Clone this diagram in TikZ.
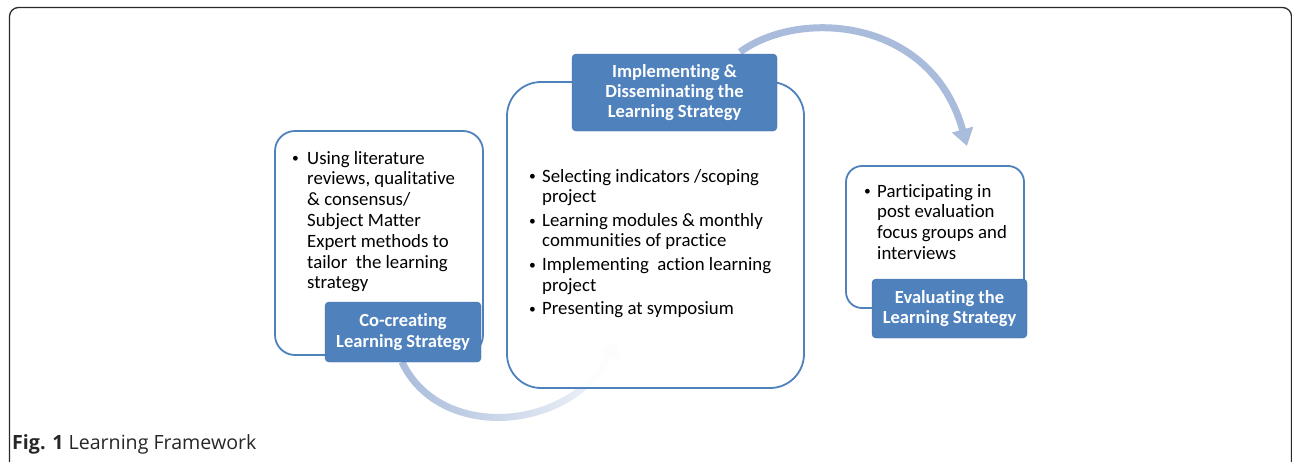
\documentclass[tikz,border=0pt]{standalone}
\usepackage{fontspec}
\setmainfont{Carlito}[Ligatures={NoCommon}]
\newfontfamily\capfont{Open Sans}
\usetikzlibrary{arrows.meta,fadings}
\definecolor{boxblue}{HTML}{4F81BD}
\definecolor{arcblue}{HTML}{A9BCDB}
\definecolor{framegray}{HTML}{2A2A2A}
\tikzfading[name=arcfade, left color=transparent!0, middle color=transparent!0, right color=transparent!90]
\tikzset{
  outerbox/.style={draw=boxblue, line width=1.8pt, fill=white, fill opacity=0.9, draw opacity=1, rounded corners=#1},
  headbox/.style={fill=boxblue, draw=boxblue!85!black, line width=0.4pt, rounded corners=4pt, text=white,
     font=\fontsize{18.5}{20.3}\selectfont\bfseries, align=center, inner sep=0pt},
  bodytext/.style={anchor=base west, inner sep=0pt, font=\fontsize{18.8}{20.8}\selectfont, text=black},
  arcline/.style={draw=arcblue, line width=7pt, -{Triangle[width=21pt,length=17pt]}},
}
\newcommand{\bul}{\raisebox{0.12ex}{\scalebox{0.72}{\textbullet}}}
\begin{document}
\begin{tikzpicture}[x=1pt,y=-1pt]
\useasboundingbox (0,0) rectangle (1292,461);
% outer frame
\begin{scope}
\clip (0,0) rectangle (1292,461);
\draw[framegray, line width=1.3pt, rounded corners=9pt] (9.5,480) -- (9.5,7.5) -- (1291.5,7.5) -- (1291.5,480);
\end{scope}
% connector coordinates
\coordinate (a1s) at (402,362);
\coordinate (a1e) at (618,340);
\coordinate (a2s) at (740,52);
\coordinate (a2e) at (967,146);
% arcs
\draw[arcline, path fading=arcfade] (a1s) .. controls (440,442) and (570,432) .. (a1e);
\draw[arcline] (a2s) .. controls (800,8) and (932,18) .. (a2e);
% left box
\node[outerbox=20pt, minimum width=208pt, minimum height=224pt, inner sep=0pt] (lbox) at (379,243) {};
\node[headbox, minimum width=156pt, minimum height=60pt] (lhead) at (403,332) {Co-creating\\Learning Strategy};
\node[bodytext] (ltext) at (292,164) {\begin{tabular}[t]{@{}p{15pt}@{}l@{}}
\bul & Using literature\\
 & reviews, qualitative\\
 & \& consensus/\\
 & Subject Matter\\
 & Expert methods to\\
 & tailor\ \ the learning\\
 & strategy
\end{tabular}};
% middle box
\node[outerbox=34pt, minimum width=297pt, minimum height=306pt, inner sep=0pt] (mbox) at (655.5,235) {};
\node[headbox, minimum width=205pt, minimum height=77pt] (mhead) at (674.5,92.5) {Implementing \&\\Disseminating the\\Learning Strategy};
\node[bodytext] (mtext) at (529,182) {\begin{tabular}[t]{@{}p{13pt}@{}l@{}}
\bul & Selecting indicators /scoping\\
 & project\\[2.5pt]
\bul & Learning modules \& monthly\\
 & communities of practice\\[2.5pt]
\bul & Implementing\ \ action learning\\
 & project\\[2.5pt]
\bul & Presenting at symposium
\end{tabular}};
% right box
\node[outerbox=16pt, minimum width=178pt, minimum height=142pt, inner sep=0pt] (rbox) at (935,237) {};
\node[headbox, minimum width=155pt, minimum height=59pt] (rhead) at (949.5,308.5) {Evaluating the\\Learning Strategy};
\node[bodytext] (rtext) at (864,197) {\begin{tabular}[t]{@{}p{13pt}@{}l@{}}
\bul & Participating in\\
 & post evaluation\\
 & focus groups and\\
 & interviews
\end{tabular}};
% caption
\node[anchor=base west, inner sep=0pt, font=\capfont\fontsize{19.6}{22}\selectfont, text=black!85] (cap) at (12,449) {\textbf{Fig. 1} Learning Framework};
\end{tikzpicture}
\end{document}
